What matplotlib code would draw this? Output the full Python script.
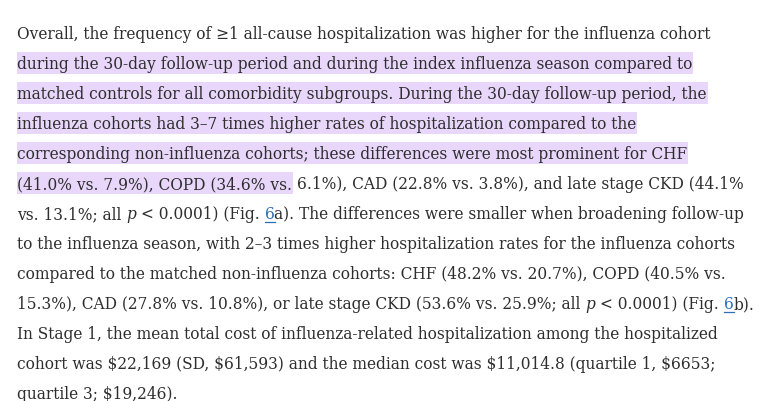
import matplotlib
matplotlib.use("Agg")
import matplotlib.pyplot as plt
from matplotlib.patches import Rectangle
from matplotlib import font_manager

# ---------------- Text content (one list per line) ----------------
# each run: (text, style, highlighted)   style: n = normal, i = italic, l = link
line_01 = [("Overall, the frequency of \u22651 all-cause hospitalization was higher for the influenza cohort", "n", False)]
line_02 = [("during the 30-day follow-up period and during the index influenza season compared to", "n", True)]
line_03 = [("matched controls for all comorbidity subgroups. During the 30-day follow-up period, the", "n", True)]
line_04 = [("influenza cohorts had 3\u20137 times higher rates of hospitalization compared to the", "n", True)]
line_05 = [("corresponding non-influenza cohorts; these differences were most prominent for CHF", "n", True)]
line_06 = [("(41.0% vs. 7.9%), COPD (34.6% vs.", "n", True),
           (" 6.1%), CAD (22.8% vs. 3.8%), and late stage CKD (44.1%", "n", False)]
line_07 = [("vs. 13.1%; all ", "n", False), ("p", "i", False), (" < 0.0001) (Fig. ", "n", False),
           ("6", "l", False), ("a). The differences were smaller when broadening follow-up", "n", False)]
line_08 = [("to the influenza season, with 2\u20133 times higher hospitalization rates for the influenza cohorts", "n", False)]
line_09 = [("compared to the matched non-influenza cohorts: CHF (48.2% vs. 20.7%), COPD (40.5% vs.", "n", False)]
line_10 = [("15.3%), CAD (27.8% vs. 10.8%), or late stage CKD (53.6% vs. 25.9%; all ", "n", False),
           ("p", "i", False), (" < 0.0001) (Fig. ", "n", False), ("6", "l", False), ("b).", "n", False)]
line_11 = [("In Stage 1, the mean total cost of influenza-related hospitalization among the hospitalized", "n", False)]
line_12 = [("cohort was $22,169 (SD, $61,593) and the median cost was $11,014.8 (quartile 1, $6653;", "n", False)]
line_13 = [("quartile 3; $19,246).", "n", False)]

lines = [line_01, line_02, line_03, line_04, line_05, line_06, line_07,
         line_08, line_09, line_10, line_11, line_12, line_13]

# ---------------- Layout / style ----------------
W, H = 767, 401
LEFT = 17
FIRST_BASE = 39
LINE_STEP = 30
LINE1_WIDTH = 696          # measured width of the first line
TEXT_COLOR = "#2e2e2e"
LINK_COLOR = "#2f6db5"
HILITE = "#e8d7fb"

FAMILY = "DejaVu Serif"
STRETCH = "normal"
cond_path = font_manager.findfont(
    font_manager.FontProperties(family=FAMILY, stretch="condensed"), fallback_to_default=False)
if "Condensed" in cond_path:
    STRETCH = "condensed"

fig = plt.figure(figsize=(W / 100, H / 100), dpi=100)
fig.patch.set_facecolor("white")
ax = fig.add_axes([0, 0, 1, 1])
ax.set_xlim(0, W)
ax.set_ylim(H, 0)
ax.axis("off")
renderer = fig.canvas.get_renderer()


def text_w(s, size, style="normal"):
    t = ax.text(0, 100, s, fontsize=size, family=FAMILY, fontstretch=STRETCH,
                style=style, parse_math=False)
    w = t.get_window_extent(renderer).width
    t.remove()
    return w


def advance(s, size, style="normal"):
    return text_w(s + "|", size, style) - text_w("|", size, style)


# fit font size to the measured line width
ref = "".join(r[0] for r in line_01)
FS = 10 * LINE1_WIDTH / text_w(ref, 10)
space_w = text_w("|  |", FS) - text_w("||", FS)
space_w /= 2

for i, runs in enumerate(lines):
    base = FIRST_BASE + i * LINE_STEP
    x = LEFT
    for s, st, hl in runs:
        style = "italic" if st == "i" else "normal"
        lead = len(s) - len(s.lstrip(" "))
        body = s.lstrip(" ")
        x0 = x
        x += lead * space_w
        w = advance(body, FS, style)
        if hl:
            ax.add_patch(Rectangle((x0, base - 17), x + w - x0 + 1, 21.5,
                                   facecolor=HILITE, edgecolor="none", zorder=1))
        col = LINK_COLOR if st == "l" else TEXT_COLOR
        ax.text(x, base, body, fontsize=FS, family=FAMILY, fontstretch=STRETCH,
                style=style, color=col, va="baseline", ha="left",
                parse_math=False, zorder=2)
        if st == "l":
            ax.plot([x, x + w], [base + 2.5, base + 2.5], color=LINK_COLOR, lw=0.9, zorder=2)
        x += w

fig.savefig("out.png", dpi=100, facecolor="white")
